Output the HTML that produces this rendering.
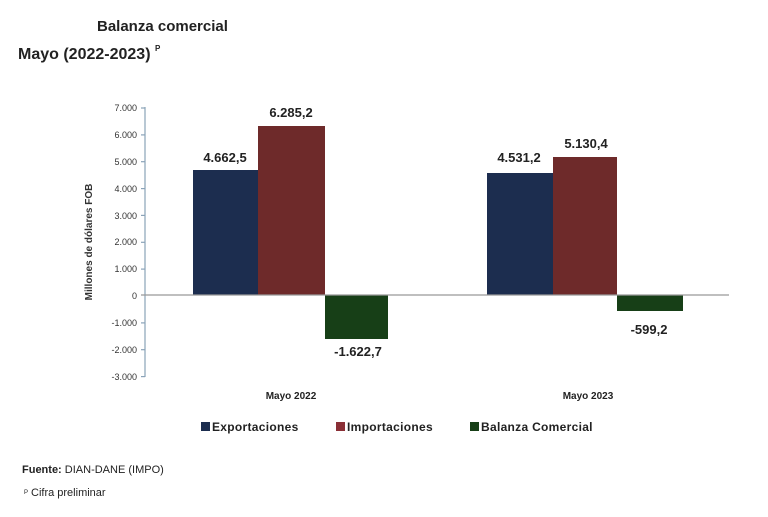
<!DOCTYPE html>
<html><head><meta charset="utf-8"><style>
body{margin:0;background:#fff;}
svg text{font-family:"Liberation Sans",sans-serif;}
</style></head><body>
<svg width="768" height="512" viewBox="0 0 768 512" xmlns="http://www.w3.org/2000/svg">
<rect width="768" height="512" fill="#fff"/>
<text x="97" y="31" font-size="15" font-weight="bold" fill="#222">Balanza comercial</text>
<text x="18" y="59" font-size="16" font-weight="bold" fill="#222">Mayo (2022-2023)</text>
<text x="155" y="51" font-size="8" font-weight="bold" fill="#222">P</text>
<g stroke="#8aa3b8" stroke-width="1.2">
<line x1="145" y1="107" x2="145" y2="377"/>
<line x1="141" y1="108" x2="145" y2="108"/><line x1="141" y1="134.9" x2="145" y2="134.9"/><line x1="141" y1="161.7" x2="145" y2="161.7"/><line x1="141" y1="188.6" x2="145" y2="188.6"/><line x1="141" y1="215.4" x2="145" y2="215.4"/><line x1="141" y1="242.3" x2="145" y2="242.3"/><line x1="141" y1="269.1" x2="145" y2="269.1"/><line x1="141" y1="322.9" x2="145" y2="322.9"/><line x1="141" y1="349.7" x2="145" y2="349.7"/><line x1="141" y1="376.6" x2="145" y2="376.6"/>
</g>
<g font-size="9" fill="#333" text-anchor="end">
<text x="137" y="111">7.000</text><text x="137" y="138">6.000</text><text x="137" y="165">5.000</text><text x="137" y="192">4.000</text><text x="137" y="219">3.000</text><text x="137" y="245">2.000</text><text x="137" y="272">1.000</text><text x="137" y="299">0</text><text x="137" y="326">-1.000</text><text x="137" y="353">-2.000</text><text x="137" y="380">-3.000</text>
</g>
<text transform="translate(92,242) rotate(-90)" font-size="10" font-weight="bold" fill="#333" text-anchor="middle">Millones de dólares FOB</text>
<rect x="193" y="170" width="65" height="125" fill="#1c2d4f"/>
<rect x="258" y="126" width="67" height="169" fill="#6e2a2a"/>
<rect x="325" y="295" width="63" height="44" fill="#173f17"/>
<rect x="487" y="173" width="66" height="122" fill="#1c2d4f"/>
<rect x="553" y="157" width="64" height="138" fill="#6e2a2a"/>
<rect x="617" y="295" width="66" height="16" fill="#173f17"/>
<line x1="141" y1="295" x2="729" y2="295" stroke="#999" stroke-width="1.2"/>
<g font-size="13" font-weight="bold" fill="#222" text-anchor="middle">
<text x="225" y="162">4.662,5</text><text x="291" y="117">6.285,2</text><text x="358" y="356">-1.622,7</text>
<text x="519" y="162">4.531,2</text><text x="586" y="148">5.130,4</text><text x="649" y="334">-599,2</text>
</g>
<g font-size="10" font-weight="bold" fill="#222" text-anchor="middle">
<text x="291" y="399">Mayo 2022</text><text x="588" y="399">Mayo 2023</text>
</g>
<rect x="201" y="422" width="9" height="9" fill="#1c2d4f"/>
<text x="212" y="431" font-size="12" font-weight="bold" fill="#222" letter-spacing="0.3">Exportaciones</text>
<rect x="336" y="422" width="9" height="9" fill="#8a2f36"/>
<text x="347" y="431" font-size="12" font-weight="bold" fill="#222" letter-spacing="0.3">Importaciones</text>
<rect x="470" y="422" width="9" height="9" fill="#173f17"/>
<text x="481" y="431" font-size="12" font-weight="bold" fill="#222" letter-spacing="0.3">Balanza Comercial</text>
<text x="22" y="473" font-size="11" fill="#222"><tspan font-weight="bold">Fuente:</tspan> DIAN-DANE (IMPO)</text>
<text x="24" y="494" font-size="6" fill="#222">P</text>
<text x="31" y="496" font-size="11" fill="#222">Cifra preliminar</text>
</svg>
</body></html>
